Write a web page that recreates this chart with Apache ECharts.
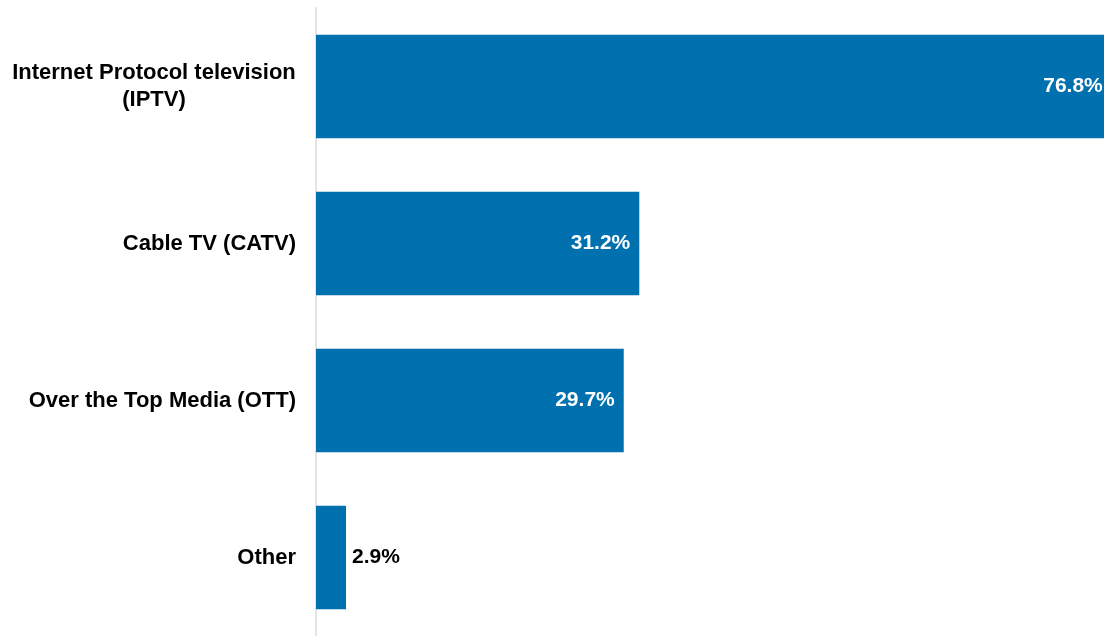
<!DOCTYPE html>
<html>
<head>
<meta charset="utf-8">
<script src="https://cdn.jsdelivr.net/npm/echarts@6/dist/echarts.min.js"></script>
<style>html,body{margin:0;padding:0;background:#fff}#c{width:1104px;height:636px}</style>
</head>
<body>
<div id="c"></div>
<script>
var categories = ['Internet Protocol television\n(IPTV)', 'Cable TV (CATV)', 'Over the Top Media (OTT)', 'Other'];
var values = [76.8, 31.2, 29.7, 2.9];

var chart = echarts.init(document.getElementById('c'), null, {renderer: 'canvas'});
chart.setOption({
  animation: false,
  grid: {left: 316, right: 0, top: 8, bottom: -2, containLabel: false},
  xAxis: {type: 'value', min: 0, max: 76.05, show: false},
  yAxis: {
    type: 'category', data: categories, inverse: true,
    axisLine: {show: true, lineStyle: {color: '#e4e4e8', width: 2}},
    axisTick: {show: false},
    axisLabel: {
      color: '#000', fontFamily: 'Liberation Sans, Arial, sans-serif', fontWeight: 'bold', fontSize: 22, margin: 20,
      lineHeight: 27,
      formatter: function (v) {
        if (v.indexOf('\n') >= 0) {
          var p = v.split('\n');
          return '{c|' + p[0] + '}\n{c|' + p[1] + '}';
        }
        return v;
      },
      rich: {c: {width: 284, align: 'center', fontFamily: 'Liberation Sans, Arial, sans-serif', fontWeight: 'bold', fontSize: 22, lineHeight: 27, color: '#000'}}
    }
  },
  series: [{
    type: 'bar', clip: false, data: values.map(function (v, i) {
      var inside = v > 10;
      return {value: v, label: {position: inside ? 'insideRight' : 'right', color: inside ? '#fff' : '#000', distance: inside ? 9 : 6}};
    }),
    barCategoryGap: '34%',
    itemStyle: {color: '#0070AF'},
    label: {show: true, fontFamily: 'Liberation Sans, Arial, sans-serif', fontWeight: 'bold', fontSize: 21, formatter: function (p) { return p.value.toFixed(1) + '%'; }}
  }]
});
</script>
</body>
</html>
